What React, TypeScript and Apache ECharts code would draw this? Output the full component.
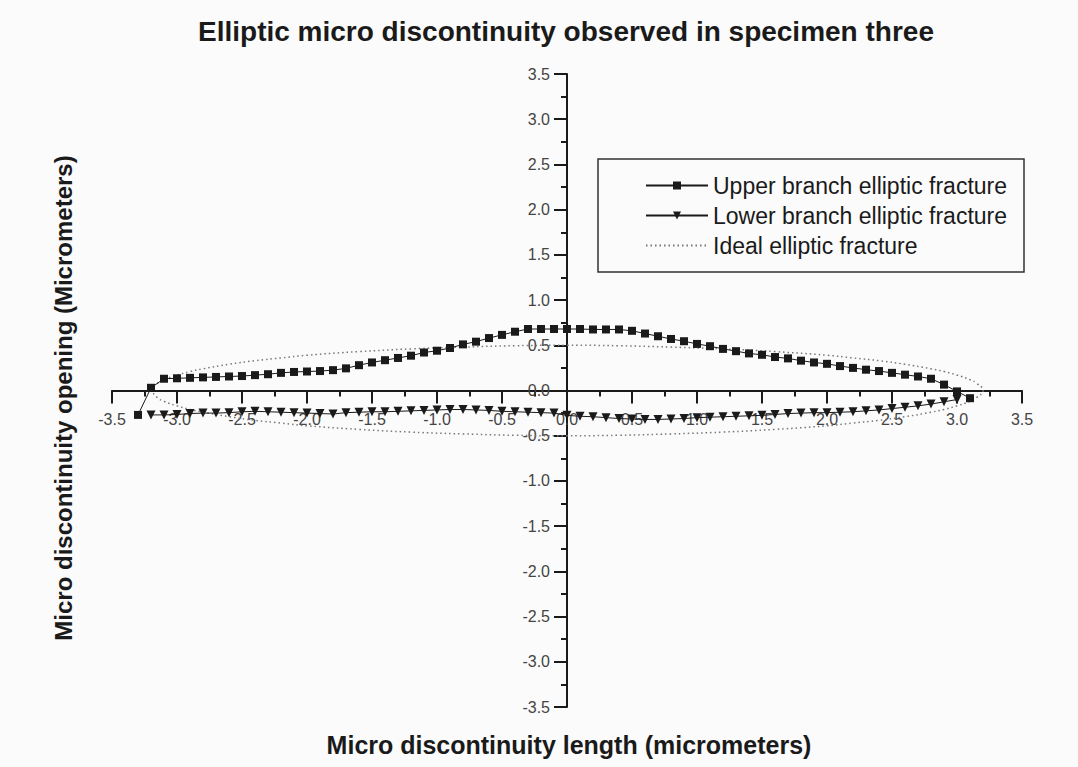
import React, { useEffect, useRef } from "react";
import * as echarts from "echarts";

const titleText = "Elliptic micro discontinuity observed in specimen three";
const xAxisTitle = "Micro discontinuity length (micrometers)";
const yAxisTitle = "Micro discontinuity opening (Micrometers)";
const seriesNames = [
  "Upper branch elliptic fracture",
  "Lower branch elliptic fracture",
  "Ideal elliptic fracture",
];

const upperX = [
  -3.3, -3.2, -3.1, -3.0, -2.9, -2.8, -2.7, -2.6, -2.5, -2.4, -2.3, -2.2, -2.1, -2.0,
  -1.9, -1.8, -1.7, -1.6, -1.5, -1.4, -1.3, -1.2, -1.1, -1.0, -0.9, -0.8, -0.7, -0.6,
  -0.5, -0.4, -0.3, -0.2, -0.1, 0.0, 0.1, 0.2, 0.3, 0.4, 0.5, 0.6, 0.7, 0.8, 0.9, 1.0,
  1.1, 1.2, 1.3, 1.4, 1.5, 1.6, 1.7, 1.8, 1.9, 2.0, 2.1, 2.2, 2.3, 2.4, 2.5, 2.6, 2.7,
  2.8, 2.9, 3.0, 3.1,
];
const upperY = [
  -0.27, 0.03, 0.13, 0.135, 0.14, 0.145, 0.15, 0.155, 0.16, 0.17, 0.18, 0.195, 0.205, 0.21,
  0.215, 0.225, 0.245, 0.28, 0.31, 0.335, 0.36, 0.385, 0.42, 0.44, 0.47, 0.51, 0.54, 0.58,
  0.615, 0.65, 0.68, 0.68, 0.68, 0.68, 0.68, 0.675, 0.675, 0.675, 0.66, 0.63, 0.6, 0.57, 0.545, 0.515,
  0.49, 0.46, 0.435, 0.41, 0.395, 0.37, 0.355, 0.33, 0.31, 0.295, 0.27, 0.25, 0.23, 0.215, 0.195, 0.175, 0.155,
  0.13, 0.065, -0.01, -0.085,
];

const lowerX = [
  -3.2, -3.1, -3.0, -2.9, -2.8, -2.7, -2.6, -2.5, -2.4, -2.3, -2.2, -2.1, -2.0,
  -1.9, -1.8, -1.7, -1.6, -1.5, -1.4, -1.3, -1.2, -1.1, -1.0, -0.9, -0.8, -0.7, -0.6,
  -0.5, -0.4, -0.3, -0.2, -0.1, 0.0, 0.1, 0.2, 0.3, 0.4, 0.5, 0.6, 0.7, 0.8, 0.9, 1.0,
  1.1, 1.2, 1.3, 1.4, 1.5, 1.6, 1.7, 1.8, 1.9, 2.0, 2.1, 2.2, 2.3, 2.4, 2.5, 2.6, 2.7,
  2.8, 2.9, 3.0,
];
const lowerY = [
  -0.27, -0.27, -0.265, -0.255, -0.25, -0.25, -0.245, -0.235, -0.23, -0.235, -0.24, -0.245, -0.25,
  -0.255, -0.26, -0.245, -0.24, -0.235, -0.235, -0.23, -0.225, -0.22, -0.215, -0.21, -0.21, -0.215, -0.22,
  -0.23, -0.235, -0.24, -0.245, -0.25, -0.275, -0.285, -0.29, -0.3, -0.31, -0.315, -0.32, -0.32, -0.315, -0.31, -0.3,
  -0.295, -0.29, -0.285, -0.28, -0.275, -0.265, -0.255, -0.25, -0.245, -0.245, -0.24, -0.235, -0.225, -0.215, -0.2, -0.185, -0.17,
  -0.15, -0.125, -0.1,
];

const idealX = [
  -3.2, -3.15, -3.1, -3.0, -2.9, -2.8, -2.6, -2.4, -2.2, -2.0, -1.6, -1.2, -0.8, -0.4, 0.0,
  0.4, 0.8, 1.2, 1.6, 2.0, 2.2, 2.4, 2.6, 2.8, 2.9, 3.0, 3.1, 3.15, 3.2,
  3.15, 3.1, 3.0, 2.9, 2.8, 2.6, 2.4, 2.2, 2.0, 1.6, 1.2, 0.8, 0.4, 0.0,
  -0.4, -0.8, -1.2, -1.6, -2.0, -2.2, -2.4, -2.6, -2.8, -2.9, -3.0, -3.1, -3.15, -3.2,
];
const idealY = [
  0.0, 0.08, 0.12, 0.17, 0.21, 0.24, 0.29, 0.33, 0.36, 0.39, 0.43, 0.46, 0.48, 0.495, 0.5,
  0.495, 0.48, 0.46, 0.43, 0.39, 0.36, 0.33, 0.29, 0.24, 0.21, 0.17, 0.12, 0.08, 0.0,
  -0.08, -0.12, -0.17, -0.21, -0.24, -0.29, -0.33, -0.36, -0.39, -0.43, -0.46, -0.48, -0.495, -0.5,
  -0.495, -0.48, -0.46, -0.43, -0.39, -0.36, -0.33, -0.29, -0.24, -0.21, -0.17, -0.12, -0.08, 0.0,
];

const axisMin = -3.5;
const axisMax = 3.5;
const axisStep = 0.5;

function pairs(xs: number[], ys: number[]) {
  return xs.map((x, i) => [x, ys[i]]);
}

const GRID_LEFT = 112;
const GRID_TOP = 74;
const GRID_W = 910;
const GRID_H = 633;

export default function App() {
  const ref = useRef<HTMLDivElement>(null);
  useEffect(() => {
    if (!ref.current) return;
    const chart = echarts.init(ref.current, undefined, { renderer: "svg" });
    const ink = "#1a1a1a";
    const fontFamily = "'Liberation Sans', Arial, sans-serif";
    const axisCommon = {
      type: "value" as const,
      min: axisMin,
      max: axisMax,
      interval: axisStep,
      axisLine: { onZero: false, lineStyle: { color: ink, width: 2 } },
      axisTick: { show: true, length: 13, lineStyle: { color: ink, width: 2 } },
      minorTick: { show: true, splitNumber: 2, length: 6, lineStyle: { color: ink, width: 2 } },
      splitLine: { show: false },
      axisLabel: {
        color: "#444",
        fontSize: 16,
        fontFamily,
        formatter: (v: number) => v.toFixed(1),
      },
    };
    chart.setOption({
      animation: false,
      backgroundColor: "#fbfbfb",
      grid: { left: GRID_LEFT, top: GRID_TOP, width: GRID_W, height: GRID_H, containLabel: false },
      xAxis: {
        ...axisCommon,
        position: "bottom",
        offset: -GRID_H / 2,
        axisLabel: { ...axisCommon.axisLabel, margin: 21 },
      },
      yAxis: {
        ...axisCommon,
        position: "left",
        offset: -GRID_W / 2,
        axisLabel: { ...axisCommon.axisLabel, margin: 17 },
      },
      legend: {
        orient: "vertical",
        left: 645,
        top: 174,
        itemWidth: 62,
        itemHeight: 10,
        itemGap: 7,
        padding: 0,
        textStyle: { fontSize: 23, color: ink, fontFamily },
        data: [
          seriesNames[0],
          seriesNames[1],
          { name: seriesNames[2], itemStyle: { opacity: 0 } },
        ],
      },
      graphic: [
        {
          type: "rect",
          shape: { x: 598, y: 159, width: 426, height: 113 },
          style: { fill: "none", stroke: "#333", lineWidth: 1.5 },
          z: 10,
        },
        {
          type: "text",
          x: 566,
          y: 31,
          style: {
            text: titleText,
            font: `bold 28px ${fontFamily}`,
            fill: ink,
            textAlign: "center",
            textVerticalAlign: "middle",
          },
        },
        {
          type: "text",
          x: 569,
          y: 745,
          style: {
            text: xAxisTitle,
            font: `bold 25px ${fontFamily}`,
            fill: ink,
            textAlign: "center",
            textVerticalAlign: "middle",
          },
        },
        {
          type: "text",
          x: 63,
          y: 398,
          rotation: Math.PI / 2,
          style: {
            text: yAxisTitle,
            font: `bold 24px ${fontFamily}`,
            fill: ink,
            textAlign: "center",
            textVerticalAlign: "middle",
          },
        },
      ],
      series: [
        {
          name: seriesNames[0],
          type: "line",
          data: pairs(upperX, upperY),
          symbol: "rect",
          symbolSize: 8,
          itemStyle: { color: ink },
          lineStyle: { color: ink, width: 1 },
          z: 3,
        },
        {
          name: seriesNames[1],
          type: "line",
          data: pairs(lowerX, lowerY),
          symbol: "triangle",
          symbolRotate: 180,
          symbolSize: 9,
          itemStyle: { color: ink },
          lineStyle: { color: ink, width: 1 },
          z: 3,
        },
        {
          name: seriesNames[2],
          type: "line",
          data: pairs(idealX, idealY),
          symbol: "none",
          smooth: true,
          itemStyle: { color: "#777" },
          lineStyle: { color: "#777", width: 1.5, type: [1.5, 3] },
          z: 2,
        },
      ],
    });
    return () => chart.dispose();
  }, []);
  return (
    <div
      ref={ref}
      style={{ position: "absolute", left: 0, top: 0, width: 1078, height: 767 }}
    />
  );
}
